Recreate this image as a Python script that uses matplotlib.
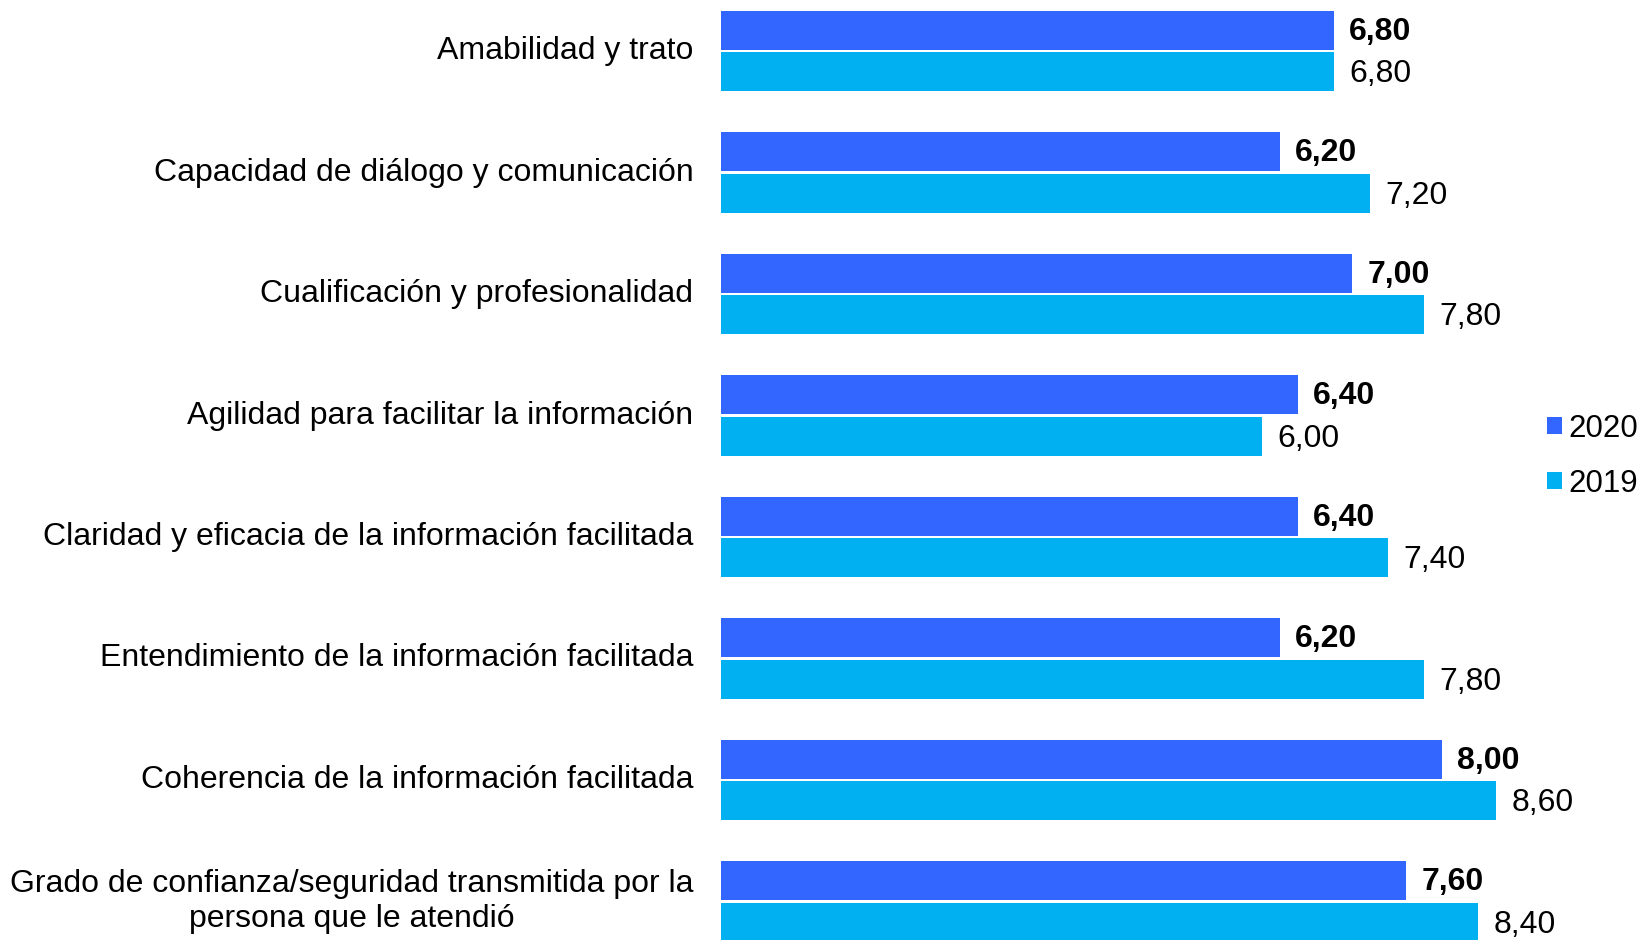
import matplotlib.pyplot as plt
import numpy as np

plt.rcParams['font.family'] = ['Liberation Sans', 'DejaVu Sans']

categorias = [
    "Amabilidad y trato",
    "Capacidad de diálogo y comunicación",
    "Cualificación y profesionalidad",
    "Agilidad para facilitar la información",
    "Claridad y eficacia de la información facilitada",
    "Entendimiento de la información facilitada",
    "Coherencia de la información facilitada",
    "Grado de confianza/seguridad transmitida por la\npersona que le atendió",
]
valores_2020 = [6.80, 6.20, 7.00, 6.40, 6.40, 6.20, 8.00, 7.60]
valores_2019 = [6.80, 7.20, 7.80, 6.00, 7.40, 7.80, 8.60, 8.40]
series = ["2020", "2019"]

color_2020 = "#3366FF"
color_2019 = "#00B0F0"

W, H = 1642, 940
fig = plt.figure(figsize=(W / 100, H / 100), dpi=100)
ax = fig.add_axes([720.5 / W, 0, 902 / W, 1])

y = np.arange(len(categorias))
h = 0.32
b1 = ax.barh(y - 0.17, valores_2020, height=h, color=color_2020, label=series[0])
b2 = ax.barh(y + 0.17, valores_2019, height=h, color=color_2019, label=series[1])

fs = 23
for yi, v in zip(y, valores_2020):
    ax.text(v + 0.17, yi - 0.16, f"{v:.2f}".replace(".", ","), va="center", ha="left",
            fontsize=fs, fontweight="bold")
for yi, v in zip(y, valores_2019):
    ax.text(v + 0.17, yi + 0.19, f"{v:.2f}".replace(".", ","), va="center", ha="left",
            fontsize=fs)

for yi, c in zip(y, categorias):
    ax.text(-0.3, yi, c, va="center", ha="right", multialignment="center",
            fontsize=fs, linespacing=1.2)

ax.set_xlim(0, 10)
ax.set_ylim(7.317, -0.42)
ax.axis("off")

leg = fig.legend(handles=[b1, b2], labels=series, loc="center left",
                 bbox_to_anchor=(1547 / W, 1 - 456 / H), frameon=False,
                 fontsize=22.5, handlelength=0.48, handleheight=0.48,
                 handletextpad=0.2, labelspacing=0.8, borderaxespad=0,
                 borderpad=0)

fig.savefig("out.png", dpi=100)
